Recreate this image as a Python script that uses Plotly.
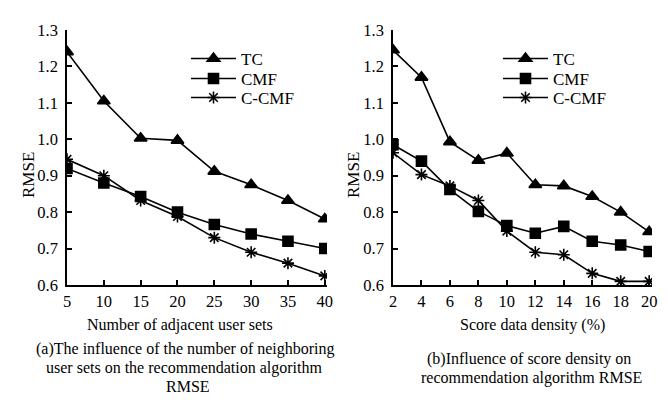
import plotly.graph_objects as go

W, H = 668, 402
FONT = "Liberation Serif, Times New Roman, serif"

# Panel (a)
x_a = [5, 10, 15, 20, 25, 30, 35, 40]
tc_a = [1.240, 1.105, 1.003, 0.997, 0.912, 0.875, 0.832, 0.781]
cmf_a = [0.920, 0.880, 0.843, 0.800, 0.766, 0.740, 0.720, 0.700]
ccmf_a = [0.945, 0.900, 0.832, 0.788, 0.730, 0.690, 0.660, 0.625]

# Panel (b)
x_b = [2, 4, 6, 8, 10, 12, 14, 16, 18, 20]
tc_b = [1.245, 1.170, 0.993, 0.942, 0.962, 0.875, 0.872, 0.843, 0.800, 0.746]
cmf_b = [0.985, 0.940, 0.862, 0.802, 0.763, 0.742, 0.761, 0.720, 0.710, 0.692]
ccmf_b = [0.963, 0.903, 0.872, 0.832, 0.748, 0.690, 0.683, 0.632, 0.610, 0.610]

series_names = ["TC", "CMF", "C-CMF"]
y_ticks = [0.6, 0.7, 0.8, 0.9, 1.0, 1.1, 1.2, 1.3]
y_tick_text = ["0.6", "0.7", "0.8", "0.9", "1.0", "1.1", "1.2", "1.3"]

symbols = {"TC": ("triangle-up", 11), "CMF": ("square", 10), "C-CMF": ("asterisk-open", 10)}

fig = go.Figure()

def px_x(p):
    return p / W

def px_y(p):
    return 1 - p / H

legend_rows = [51, 71, 90]
legend_cfg = {}

def add_series(xs, ys, name, xaxis, yaxis, legend_id, lx, ly):
    sym, sz = symbols[name]
    fig.add_trace(go.Scatter(
        x=xs, y=ys, name=name, mode="lines+markers",
        xaxis=xaxis, yaxis=yaxis, legend=legend_id,
        line=dict(color="black", width=1.6),
        marker=dict(symbol=sym, size=sz, color="black",
                    line=dict(color="black", width=1.6)),
    ))
    legend_cfg[legend_id] = dict(
        x=px_x(lx), y=px_y(ly), xanchor="left", yanchor="middle",
        bgcolor="rgba(0,0,0,0)", font=dict(family=FONT, size=17, color="black"),
        itemwidth=45, borderwidth=0, visible=True,
    )

ids = ["legend2", "legend3", "legend4", "legend5", "legend6", "legend7"]
for i, (nm, ys) in enumerate(zip(series_names, [tc_a, cmf_a, ccmf_a])):
    add_series(x_a, ys, nm, "x", "y", ids[i], 178, legend_rows[i])
for i, (nm, ys) in enumerate(zip(series_names, [tc_b, cmf_b, ccmf_b])):
    add_series(x_b, ys, nm, "x2", "y2", ids[3 + i], 490, legend_rows[i])

axis_common = dict(
    showline=True, linecolor="black", linewidth=1.5,
    ticks="inside", ticklen=5, tickwidth=1.5, tickcolor="black",
    showgrid=False, zeroline=False, automargin=False,
    tickfont=dict(family=FONT, size=16.5, color="black"),
)

fig.update_layout(
    width=W, height=H,
    margin=dict(l=0, r=0, t=0, b=0),
    paper_bgcolor="white", plot_bgcolor="white",
    font=dict(family=FONT, color="black"),
    showlegend=True,
    xaxis=dict(domain=[px_x(59), px_x(319)], range=[5, 40.3], tickvals=x_a,
               anchor="y", **axis_common),
    yaxis=dict(domain=[px_y(277), px_y(22)], range=[0.6, 1.3], tickvals=y_ticks,
               ticktext=y_tick_text, anchor="x", ticklabelstandoff=4, **axis_common),
    xaxis2=dict(domain=[px_x(385), px_x(644)], range=[2, 20.2], tickvals=x_b,
                anchor="y2", **axis_common),
    yaxis2=dict(domain=[px_y(277), px_y(22)], range=[0.6, 1.3], tickvals=y_ticks,
                ticktext=y_tick_text, anchor="x2", ticklabelstandoff=4, **axis_common),
    **legend_cfg,
)

def ann(text, x, y, size=16, angle=0):
    fig.add_annotation(text=text, x=px_x(x), y=px_y(y), xref="paper", yref="paper",
                       xanchor="center", yanchor="middle", showarrow=False,
                       textangle=angle, font=dict(family=FONT, size=size, color="black"))

ann("RMSE", 20, 167, 17, -90)
ann("RMSE", 345, 167, 17, -90)
ann("Number of adjacent user sets", 172, 317, 16)
ann("Score data density (%)", 524, 317, 16)
ann("(a)The influence of the number of neighboring", 177, 341, 16)
ann("user sets on the recommendation algorithm", 176, 360, 16)
ann("RMSE", 180, 378, 16)
ann("(b)Influence of score density on", 521, 351, 16)
ann("recommendation algorithm RMSE", 523, 370, 16)

fig.write_html("out.html")
